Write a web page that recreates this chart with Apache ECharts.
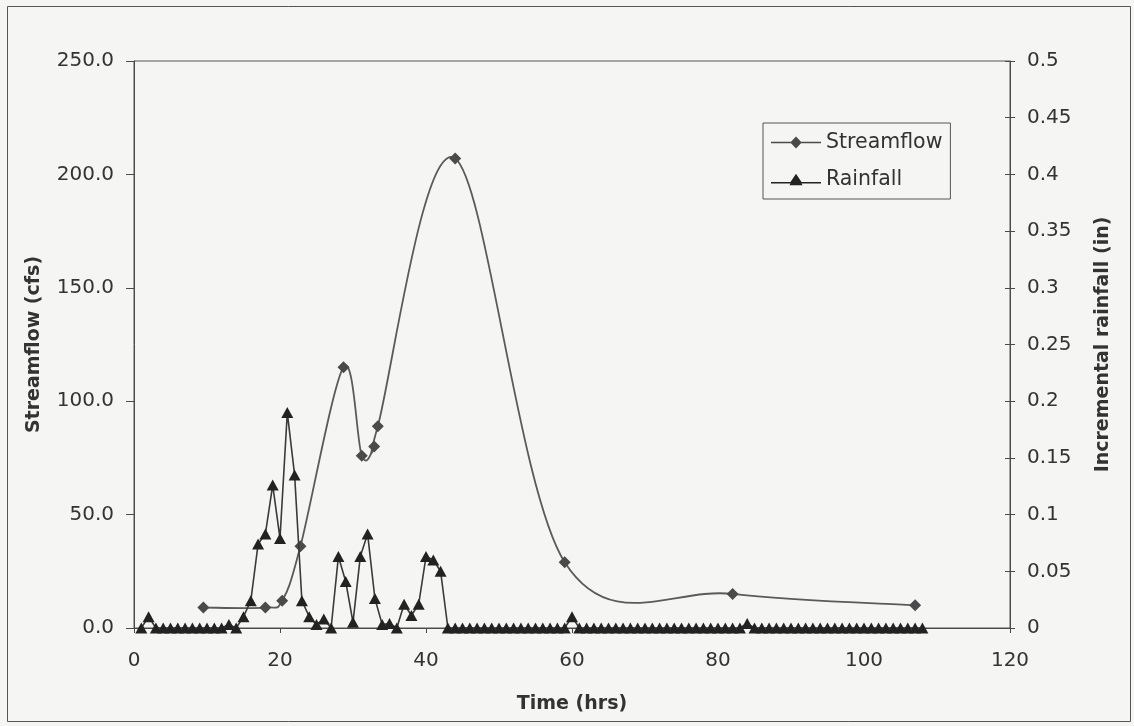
<!DOCTYPE html>
<html>
<head>
<meta charset="utf-8">
<title>Streamflow and Rainfall</title>
<script src="https://cdn.jsdelivr.net/npm/echarts@6/dist/echarts.min.js"></script>
<style>
  html, body { margin: 0; padding: 0; background: #f5f5f3; }
  #chart { width: 1134px; height: 726px; }
</style>
</head>
<body>
<div id="chart"></div>
<script>
// Streamflow observations (hours, cfs)
const streamTime = [9.5, 18, 20.3, 22.8, 28.7, 31.2, 32.9, 33.4, 44, 59, 82, 107];
const streamflow = [9, 9, 12, 36, 115, 76, 80, 89, 207, 29, 15, 10];

// Hourly incremental rainfall (hours, inches)
const rainTime = [
  1, 2, 3, 4, 5, 6, 7, 8, 9, 10, 11, 12, 13, 14, 15, 16, 17, 18, 19, 20,
  21, 22, 23, 24, 25, 26, 27, 28, 29, 30, 31, 32, 33, 34, 35, 36, 37, 38, 39, 40,
  41, 42, 43, 44, 45, 46, 47, 48, 49, 50, 51, 52, 53, 54, 55, 56, 57, 58, 59, 60,
  61, 62, 63, 64, 65, 66, 67, 68, 69, 70, 71, 72, 73, 74, 75, 76, 77, 78, 79, 80,
  81, 82, 83, 84, 85, 86, 87, 88, 89, 90, 91, 92, 93, 94, 95, 96, 97, 98, 99, 100,
  101, 102, 103, 104, 105, 106, 107, 108
];
const rainfall = [
  0, 0.01, 0, 0, 0, 0, 0, 0, 0, 0, 0, 0, 0.003, 0, 0.01, 0.024, 0.074, 0.083, 0.126, 0.079,
  0.19, 0.135, 0.024, 0.01, 0.003, 0.008, 0, 0.063, 0.041, 0.005, 0.063, 0.083, 0.026, 0.003, 0.004, 0, 0.021, 0.011, 0.021, 0.063,
  0.06, 0.05, 0, 0, 0, 0, 0, 0, 0, 0, 0, 0, 0, 0, 0, 0, 0, 0, 0, 0.01,
  0, 0, 0, 0, 0, 0, 0, 0, 0, 0, 0, 0, 0, 0, 0, 0, 0, 0, 0, 0,
  0, 0, 0, 0.004, 0, 0, 0, 0, 0, 0, 0, 0, 0, 0, 0, 0, 0, 0, 0, 0,
  0, 0, 0, 0, 0, 0, 0, 0
];

// Axis ranges and tick steps
const timeTicks = { min: 0, max: 120, step: 20 };
const flowTicks = { min: 0, max: 250, step: 50 };
const rainTicks = { min: 0, max: 0.5, step: 0.05 };

const FONT = "'DejaVu Sans', sans-serif";
const TEXT = '#333';
const AXIS = '#4a4a4a';
const FLOW_LINE = '#5a5a5a';
const FLOW_MARK = '#4a4a4a';
const RAIN_LINE = '#3a3a3a';
const RAIN_MARK = '#222';

const chart = echarts.init(document.getElementById('chart'), null, { renderer: 'canvas' });

const streamData = streamTime.map((t, i) => [t, streamflow[i]]);
const rainData = rainTime.map((t, i) => [t, rainfall[i]]);

// Smoothed streamflow curve: Catmull-Rom spline through the projected points,
// drawn as cubic Bezier segments (control points at 1/6 of neighbour chords).
function renderFlowCurve(params, api) {
  if (params.dataIndex !== 0) return null;
  const pts = streamData.map(d => api.coord(d));
  const n = pts.length;
  const children = [];
  for (let i = 0; i < n - 1; i++) {
    const p0 = pts[Math.max(i - 1, 0)];
    const p1 = pts[i];
    const p2 = pts[i + 1];
    const p3 = pts[Math.min(i + 2, n - 1)];
    children.push({
      type: 'bezierCurve',
      shape: {
        x1: p1[0], y1: p1[1],
        cpx1: p1[0] + (p2[0] - p0[0]) / 6, cpy1: p1[1] + (p2[1] - p0[1]) / 6,
        cpx2: p2[0] - (p3[0] - p1[0]) / 6, cpy2: p2[1] - (p3[1] - p1[1]) / 6,
        x2: p2[0], y2: p2[1]
      },
      style: { stroke: FLOW_LINE, lineWidth: 1.8, fill: null }
    });
  }
  return { type: 'group', children };
}

const labelStyle = { fontFamily: FONT, fontSize: 20, color: TEXT };
const titleStyle = { fontFamily: FONT, fontSize: 19, fontWeight: 'bold', color: TEXT };

// Legend icons: a short line with the series marker in the middle
const flowIcon = 'path://M0,5.2L20,5.2L25,0L30,5.2L50,5.2L50,6.8L30,6.8L25,12L20,6.8L0,6.8Z';
const rainIcon = 'path://M0,8.2L19.5,8.2L25,0L30.5,8.2L50,8.2L50,9.8L30.5,9.8L31.5,11.5L18.5,11.5L19.5,9.8L0,9.8Z';

chart.setOption({
  backgroundColor: '#f5f5f3',
  animation: false,
  graphic: [{
    type: 'rect',
    left: 5, top: 4,
    shape: { width: 1123, height: 715 },
    style: { fill: 'none', stroke: '#555', lineWidth: 1 },
    silent: true
  }],
  grid: {
    left: 134, right: 124, top: 61, bottom: 98,
    show: true, borderColor: '#555', borderWidth: 1, backgroundColor: 'transparent'
  },
  legend: {
    data: [
      { name: 'Streamflow', icon: flowIcon, itemStyle: { color: FLOW_MARK } },
      { name: 'Rainfall', icon: rainIcon, itemStyle: { color: RAIN_MARK } }
    ],
    orient: 'vertical',
    left: 763, top: 123,
    padding: [9, 8, 9, 8],
    itemGap: 16,
    itemWidth: 50,
    itemHeight: 12,
    borderColor: '#555', borderWidth: 1,
    textStyle: { fontFamily: FONT, fontSize: 20.5, color: TEXT }
  },
  xAxis: {
    type: 'value',
    min: timeTicks.min, max: timeTicks.max, interval: timeTicks.step,
    name: 'Time (hrs)', nameLocation: 'middle', nameGap: 67,
    nameTextStyle: titleStyle,
    axisLine: { show: true, lineStyle: { color: AXIS, width: 1 } },
    axisTick: { show: true, inside: false, length: 5, lineStyle: { color: AXIS } },
    axisLabel: Object.assign({ margin: 23 }, labelStyle),
    splitLine: { show: false }
  },
  yAxis: [{
    type: 'value', position: 'left',
    min: flowTicks.min, max: flowTicks.max, interval: flowTicks.step,
    name: 'Streamflow (cfs)', nameLocation: 'middle', nameRotate: 90, nameGap: 90,
    nameTextStyle: titleStyle,
    axisLine: { show: true, lineStyle: { color: AXIS, width: 1 } },
    axisTick: { show: true, inside: false, length: 8, lineStyle: { color: AXIS } },
    axisLabel: Object.assign({ margin: 20, formatter: v => v.toFixed(1) }, labelStyle),
    splitLine: { show: false }
  }, {
    type: 'value', position: 'right',
    min: rainTicks.min, max: rainTicks.max, interval: rainTicks.step,
    name: 'Incremental rainfall (in)', nameLocation: 'middle', nameRotate: 90, nameGap: 84,
    nameTextStyle: titleStyle,
    axisLine: { show: true, lineStyle: { color: AXIS, width: 1 } },
    axisTick: { show: true, inside: false, length: 5, lineStyle: { color: AXIS } },
    axisLabel: Object.assign({ margin: 17, formatter: v => String(parseFloat(v.toFixed(2))) }, labelStyle),
    splitLine: { show: false }
  }, {
    // inner half of the crossing ticks on the rainfall axis
    type: 'value', position: 'right', offset: 0,
    min: rainTicks.min, max: rainTicks.max, interval: rainTicks.step,
    axisLine: { show: false },
    axisTick: { show: true, inside: true, length: 5, lineStyle: { color: AXIS } },
    axisLabel: { show: false },
    splitLine: { show: false }
  }],
  series: [{
    name: 'Streamflow',
    type: 'custom',
    yAxisIndex: 0,
    data: streamData,
    encode: { x: 0, y: 1 },
    renderItem: renderFlowCurve,
    itemStyle: { color: FLOW_MARK },
    silent: true,
    z: 2
  }, {
    name: 'Streamflow',
    type: 'scatter',
    yAxisIndex: 0,
    data: streamData,
    symbol: 'diamond',
    symbolSize: 12,
    itemStyle: { color: FLOW_MARK, borderWidth: 0, opacity: 1 },
    z: 3
  }, {
    name: 'Rainfall',
    type: 'line',
    yAxisIndex: 1,
    data: rainData,
    symbol: 'triangle',
    symbolSize: [12, 11],
    showAllSymbol: true,
    lineStyle: { color: RAIN_LINE, width: 1.6 },
    itemStyle: { color: RAIN_MARK, borderWidth: 0 },
    z: 4
  }]
});
</script>
</body>
</html>
